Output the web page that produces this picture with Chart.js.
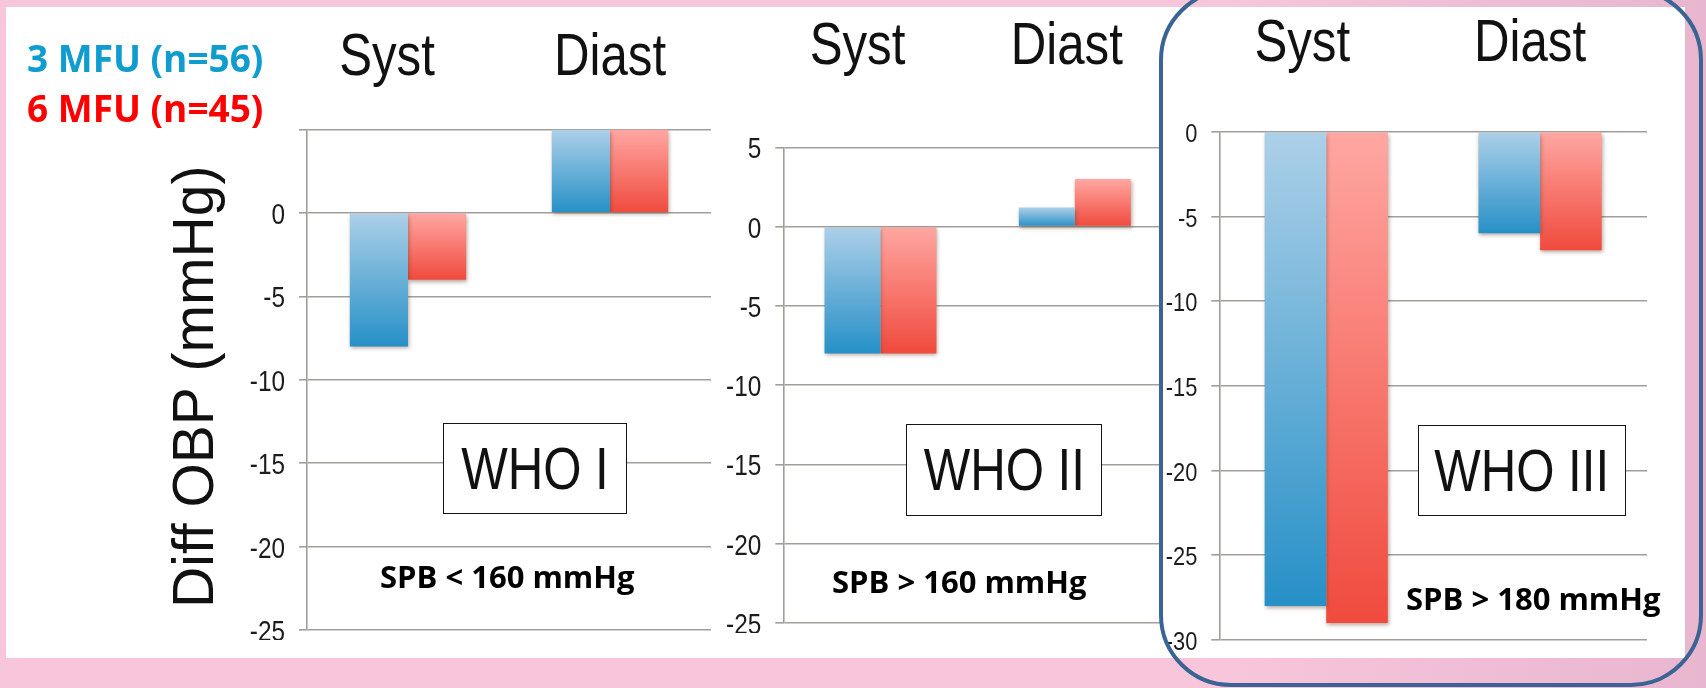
<!DOCTYPE html>
<html>
<head>
<meta charset="utf-8">
<script src="https://cdn.jsdelivr.net/npm/chart.js@4/dist/chart.umd.min.js"></script>
<style>
html,body{margin:0;padding:0;width:1706px;height:688px;overflow:hidden;}
body{background:linear-gradient(90deg,#f7c6da 0%,#f7c6da 72%,#eebcd5 88%,#e9b6d0 100%);}
#panel{position:absolute;left:6px;top:7px;width:1679px;height:651px;background:#ffffff;}
canvas{position:absolute;}
.box{position:absolute;border:1.6px solid #151515;background:#fff;box-sizing:border-box;
  font-family:'Liberation Sans',Arial,sans-serif;font-size:60px;color:#111;
  display:flex;align-items:center;justify-content:center;line-height:1;white-space:nowrap;}
.box span{display:inline-block;transform:scaleX(0.82);}
.note{position:absolute;font-family:'Open Sans',sans-serif;font-weight:700;font-size:31px;line-height:31px;color:#000;white-space:nowrap;}
.leg{position:absolute;left:27px;font-family:'Open Sans',sans-serif;font-weight:700;font-size:37px;line-height:37px;white-space:nowrap;}
#frame{position:absolute;left:1159px;top:-12px;width:544px;height:699px;border:4px solid #3a6494;border-radius:72px;box-sizing:border-box;}
</style>
</head>
<body>
<div id="panel"></div>
<canvas id="c1" width="551" height="640" style="left:160px;top:0px;"></canvas>
<canvas id="c2" width="472" height="633" style="left:700px;top:0px;clip-path:inset(0 12px 0 0);"></canvas>
<canvas id="c3" width="517" height="650" style="left:1130px;top:0px;"></canvas>
<div id="legend"></div>
<div class="box" style="left:443px;top:423px;width:184px;height:91px;"><span>WHO I</span></div>
<div class="box" style="left:906px;top:424px;width:196px;height:92px;"><span>WHO II</span></div>
<div class="box" style="left:1418px;top:425px;width:208px;height:91px;"><span>WHO III</span></div>
<div class="note" style="left:380px;top:561px;">SPB &lt; 160 mmHg</div>
<div class="note" style="left:832px;top:566px;">SPB &gt; 160 mmHg</div>
<div class="note" style="left:1406px;top:583px;">SPB &gt; 180 mmHg</div>
<div id="frame"></div>
<script>
// ---- data ----
const categories = ['Syst', 'Diast'];
const seriesNames = ['3 MFU (n=56)', '6 MFU (n=45)'];
const who1_3mfu = [-8, 5];
const who1_6mfu = [-4, 5];
const who2_3mfu = [-8, 1.2];
const who2_6mfu = [-8, 3];
const who3_3mfu = [-28, -6];
const who3_6mfu = [-29, -7];
const yRange1 = [-25, 5];
const yRange2 = [-25, 5];
const yRange3 = [-30, 0];
const hiddenTickLabels1 = [5];
const yTitle = 'Diff OBP (mmHg)';

// ---- styles ----
const SANS = "'Liberation Sans',Arial,sans-serif";
const GRID = '#a39d99';
const legendColors = ['#0f9ccf', '#fe0000'];
const blueStops = ['#add0e8', '#2690c7'];
const redStops = ['#ffa7a2', '#f04a3d'];

// condensed label drawing (the reference uses a narrow typeface)
function narrowLabels(sx) {
  return function (chartArea) {
    if (!this.options.ticks.display) return;
    const ctx = this.ctx;
    const shifts = this._labelShifts || [];
    const items = this.getLabelItems(chartArea);
    items.forEach((item, i) => {
      const o = item.options, f = item.font;
      ctx.save();
      ctx.translate(o.translation[0] + (shifts[i] || 0), o.translation[1]);
      if (o.rotation) ctx.rotate(o.rotation);
      ctx.scale(sx, 1);
      ctx.font = f.string;
      ctx.fillStyle = o.color;
      ctx.textAlign = o.textAlign;
      ctx.textBaseline = o.textBaseline;
      const lines = Array.isArray(item.label) ? item.label : [item.label];
      let y = item.textOffset;
      for (const l of lines) { ctx.fillText(l, 0, y); y += f.lineHeight; }
      ctx.restore();
    });
  };
}
class NarrowCategoryScale extends Chart.CategoryScale {}
NarrowCategoryScale.id = 'narrowCategory';
NarrowCategoryScale.defaults = Chart.CategoryScale.defaults;
NarrowCategoryScale.prototype.drawLabels = narrowLabels(0.82);
class NarrowLinearScale extends Chart.LinearScale {}
NarrowLinearScale.id = 'narrowLinear';
NarrowLinearScale.defaults = Chart.LinearScale.defaults;
NarrowLinearScale.prototype.drawLabels = narrowLabels(0.84);
NarrowLinearScale.prototype.drawTitle = function () {
  const ctx = this.ctx;
  ctx.save();
  ctx.translate(0, this._titleShift || 0);
  Chart.LinearScale.prototype.drawTitle.call(this);
  ctx.restore();
};
Chart.register(NarrowCategoryScale, NarrowLinearScale);

function grad(stops) {
  return (ctx) => {
    const c = ctx.chart;
    if (!c.chartArea || ctx.raw == null) return stops[1];
    const ys = c.scales.y;
    const y1 = ys.getPixelForValue(ctx.raw), y0 = ys.getPixelForValue(0);
    const g = c.ctx.createLinearGradient(0, Math.min(y0, y1), 0, Math.max(y0, y1) + 0.01);
    g.addColorStop(0, stops[0]);
    g.addColorStop(1, stops[1]);
    return g;
  };
}

const shadowPlugin = {
  id: 'barShadow',
  beforeDatasetsDraw(chart) {
    const c = chart.ctx;
    c.save();
    c.shadowColor = 'rgba(90,60,40,0.45)';
    c.shadowBlur = 4;
    c.shadowOffsetX = 1;
    c.shadowOffsetY = 2;
  },
  afterDatasetsDraw(chart) { chart.ctx.restore(); }
};

function zeroPad(s) { s.paddingTop = 0; s.paddingBottom = 0; s.paddingLeft = 0; s.paddingRight = 0; }

function makeChart(id, s3, s6, cfg) {
  return new Chart(document.getElementById(id), {
    type: 'bar',
    data: {
      labels: categories,
      datasets: [
        { label: seriesNames[0], data: s3, backgroundColor: grad(blueStops), borderWidth: 0,
          barPercentage: 1, categoryPercentage: 0.576, legendColor: legendColors[0] },
        { label: seriesNames[1], data: s6, backgroundColor: grad(redStops), borderWidth: 0,
          barPercentage: 1, categoryPercentage: 0.576, legendColor: legendColors[1] }
      ]
    },
    options: {
      responsive: false,
      animation: false,
      devicePixelRatio: 1,
      layout: { padding: { top: 0, left: 0, right: 0, bottom: cfg.padBottom } },
      plugins: { legend: { display: false }, tooltip: { enabled: false } },
      scales: {
        x: {
          type: 'narrowCategory',
          position: 'top',
          grid: { display: false },
          border: { display: false },
          ticks: { font: { family: SANS, size: 60 }, color: '#111', padding: cfg.xPad,
                   maxRotation: 0, autoSkip: false },
          afterFit: (s) => { s.height = cfg.xh; zeroPad(s); s._labelShifts = cfg.xShift; }
        },
        y: {
          type: 'narrowLinear',
          min: cfg.range[0], max: cfg.range[1],
          ticks: { stepSize: 5, font: { family: SANS, size: cfg.tickSize }, color: '#1c1c1c',
                   padding: 14, labelOffset: 3,
                   callback: (v) => (cfg.hidden && cfg.hidden.includes(v)) ? '' : String(v) },
          grid: { color: GRID, lineWidth: 1.6, tickLength: 8, drawTicks: true },
          border: { display: true, color: GRID, width: 1.6 },
          title: { display: !!cfg.title, text: cfg.title || '', color: '#111',
                   font: { family: SANS, size: 57 },
                   padding: { top: 3, bottom: 0 } },
          afterFit: (s) => { s.width = cfg.yw; zeroPad(s); s._titleShift = cfg.titleShift || 0; }
        }
      }
    },
    plugins: [shadowPlugin]
  });
}

const ch1 = makeChart('c1', who1_3mfu, who1_6mfu,
  { range: yRange1, yw: 147, xh: 129.5, xPad: 27, tickSize: 29, padBottom: 10,
    hidden: hiddenTickLabels1, title: yTitle, titleShift: 7, xShift: [-21, 0] });
const ch2 = makeChart('c2', who2_3mfu, who2_6mfu,
  { range: yRange2, yw: 83.3, xh: 147.3, xPad: 56, tickSize: 29, padBottom: 10, xShift: [-23, -8] });
const ch3 = makeChart('c3', who3_3mfu, who3_6mfu,
  { range: yRange3, yw: 89.3, xh: 131.7, xPad: 43, tickSize: 26, padBottom: 10, xShift: [-24, -10] });

// legend built from the chart's datasets
const leg = document.getElementById('legend');
ch1.data.datasets.forEach((ds, i) => {
  const d = document.createElement('div');
  d.className = 'leg';
  d.style.top = (39 + i * 50) + 'px';
  d.style.color = ds.legendColor;
  d.textContent = ds.label;
  leg.appendChild(d);
});
</script>
</body>
</html>
